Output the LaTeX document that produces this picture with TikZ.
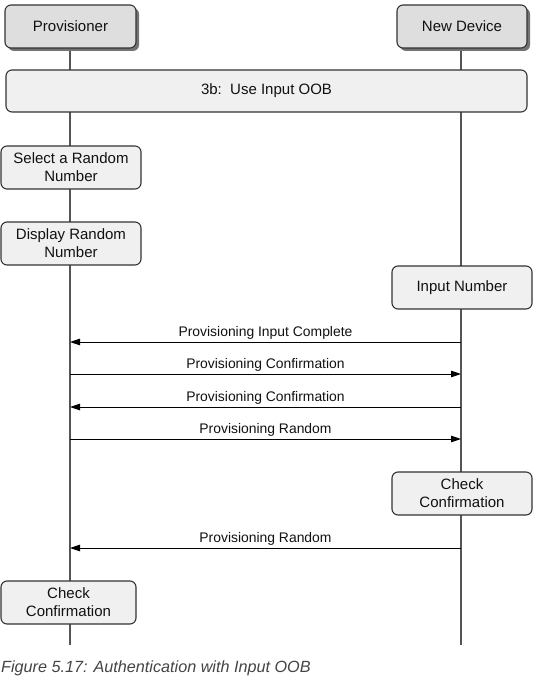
\documentclass[tikz,border=0pt]{standalone}
\usepackage{fontspec}
\setmainfont{Liberation Sans}
\usetikzlibrary{arrows.meta,shadows}
\definecolor{boxline}{HTML}{333333}
\definecolor{hdrfill}{HTML}{DEDEDE}
\definecolor{procfill}{HTML}{F0F0F0}
\definecolor{lifeline}{HTML}{555555}
\definecolor{txt}{HTML}{111111}
\definecolor{captxt}{HTML}{444444}
\tikzset{
  basebox/.style={draw=boxline, line width=1.1pt, rounded corners=6pt, text=txt,
    align=center, inner sep=2pt, font=\fontsize{15}{18}\selectfont},
  hdrbox/.style={basebox, fill=hdrfill, minimum height=43pt,
    drop shadow={shadow xshift=3pt, shadow yshift=-3pt, fill=black!55, opacity=1}},
  procbox/.style={basebox, fill=procfill, minimum width=140pt, minimum height=43pt},
  lifeln/.style={draw=lifeline, line width=1.4pt},
  msg/.style={draw=black, line width=0.9pt, -{Triangle[length=10pt,width=6.5pt]}},
  msglabel/.style={anchor=south, inner sep=0pt, text=txt, font=\fontsize{13.9}{16}\selectfont},
}
\begin{document}
\begin{tikzpicture}[x=1pt,y=-1pt]
\useasboundingbox (0,0) rectangle (542,687);
% lifeline ends
\coordinate (pTop) at (70,26);
\coordinate (dTop) at (461,26);
\coordinate (pBot) at (70,645);
\coordinate (dBot) at (461,645);
\draw[lifeln] (pTop) -- (pBot);
\draw[lifeln] (dTop) -- (dBot);
% headers
\node[hdrbox, minimum width=131pt] (prov) at (70.5,26.5) {Provisioner};
\node[hdrbox, minimum width=130pt] (dev) at (462,26.5) {New Device};
% OOB bar
\node[basebox, fill=procfill, minimum width=521pt, minimum height=42pt] (oob) at (266.5,91) {3b:\ \ Use Input OOB};
% process boxes
\node[procbox] (sel) at (71,167.5) {Select a Random\\Number};
\node[procbox] (disp) at (71,243.5) {Display Random\\Number};
\node[procbox] (inp) at (462,287.5) {Input Number};
\node[procbox] (chkR) at (462,493.5) {Check\\Confirmation};
\node[procbox, minimum width=135pt] (chkL) at (68.5,602.5) {Check\\Confirmation};
% message end points
\coordinate (d1) at (461,342); \coordinate (p1) at (70,342);
\coordinate (p2) at (70,374);  \coordinate (d2) at (461,374);
\coordinate (d3) at (461,407); \coordinate (p3) at (70,407);
\coordinate (p4) at (70,439);  \coordinate (d4) at (461,439);
\coordinate (d5) at (461,548); \coordinate (p5) at (70,548);
\draw[msg] (d1) -- node[msglabel, above=2.5pt] {Provisioning Input Complete} (p1);
\draw[msg] (p2) -- node[msglabel, above=2.5pt] {Provisioning Confirmation} (d2);
\draw[msg] (d3) -- node[msglabel, above=2.5pt] {Provisioning Confirmation} (p3);
\draw[msg] (p4) -- node[msglabel, above=2.5pt] {Provisioning Random} (d4);
\draw[msg] (d5) -- node[msglabel, above=2.5pt] {Provisioning Random} (p5);
% caption
\node[anchor=west, inner sep=0pt, text=captxt, font=\itshape\fontsize{16.2}{18}\selectfont] (cap) at (1,668) {Figure 5.17: Authentication with Input OOB};
\end{tikzpicture}
\end{document}
